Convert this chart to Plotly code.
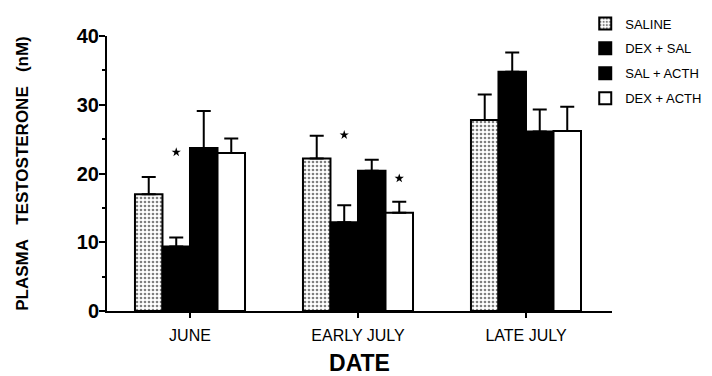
import plotly.graph_objects as go

categories = ["JUNE", "EARLY JULY", "LATE JULY"]
series_names = ["SALINE", "DEX + SAL", "SAL + ACTH", "DEX + ACTH"]

saline = [17.0, 22.2, 27.8]
dex_sal = [9.4, 12.9, 34.8]
sal_acth = [23.7, 20.4, 26.1]
dex_acth = [23.0, 14.3, 26.2]

saline_err = [2.5, 3.3, 3.7]
dex_sal_err = [1.3, 2.5, 2.8]
sal_acth_err = [5.4, 1.6, 3.2]
dex_acth_err = [2.1, 1.6, 3.5]

# significance markers (y positions of the asterisks; None = no marker)
saline_star = [None, None, None]
dex_sal_star = [23.1, 25.6, None]
sal_acth_star = [None, None, None]
dex_acth_star = [None, 19.3, None]

y_ticks = [0, 10, 20, 30, 40]

values = [saline, dex_sal, sal_acth, dex_acth]
errors = [saline_err, dex_sal_err, sal_acth_err, dex_acth_err]
stars = [saline_star, dex_sal_star, sal_acth_star, dex_acth_star]

FONT = "Liberation Sans, Arial, sans-serif"
NB = "\u00a0"

fills = [
    dict(color="white", pattern=dict(shape=".", fgcolor="black", bgcolor="white",
                                     size=4, solidity=0.35, fillmode="overlay")),
    dict(color="black"),
    dict(color="black"),
    dict(color="white"),
]

fig = go.Figure()
for i, (name, v, e) in enumerate(zip(series_names, values, errors)):
    m = dict(fills[i])
    m["line"] = dict(color="black", width=2)
    fig.add_trace(go.Bar(
        x=categories, y=v, name=name, marker=m,
        offsetgroup=str(i), legendgroup=str(i),
        error_y=dict(type="data", symmetric=False, array=e,
                     arrayminus=[0] * len(e), color="black",
                     thickness=2, width=7),
    ))

for i, s in enumerate(stars):
    fig.add_trace(go.Scatter(
        x=categories, y=s, mode="markers", offsetgroup=str(i),
        marker=dict(symbol="star", size=7, color="black"),
        showlegend=False, hoverinfo="skip",
    ))

fig.update_layout(
    width=704, height=368,
    margin=dict(l=99, r=100, t=28, b=65, autoexpand=False),
    paper_bgcolor="white", plot_bgcolor="white",
    barmode="group", bargap=0.345, bargroupgap=0,
    scattermode="group", scattergap=0.345,
    font=dict(family=FONT, color="black"),
    showlegend=True,
    legend=dict(x=0.947, xanchor="left", y=1.10, yanchor="top",
                font=dict(size=13, family=FONT), tracegroupgap=5,
                bgcolor="rgba(0,0,0,0)", itemclick=False),
)

fig.update_xaxes(
    type="category", range=[-0.494, 2.512],
    showline=True, linecolor="black", linewidth=2,
    ticks="outside", ticklen=5, tickwidth=2, tickcolor="black",
    tickfont=dict(size=16, family=FONT), ticklabelstandoff=4,
    showgrid=False, zeroline=False,
    title=dict(text="<b>DATE</b>", font=dict(size=23, family=FONT), standoff=19),
)

fig.update_yaxes(
    range=[0, 40], tickvals=y_ticks,
    ticktext=[f"<b>{t}</b>" for t in y_ticks],
    showline=True, linecolor="black", linewidth=2,
    ticks="outside", ticklen=6, tickwidth=2, tickcolor="black",
    tickfont=dict(size=20, family=FONT), ticklabelstandoff=-4,
    minor=dict(dtick=5, ticks="outside", ticklen=3, tickwidth=2, tickcolor="black"),
    showgrid=False, zeroline=False,
    title=dict(text=f"<b>PLASMA{NB*3}TESTOSTERONE{NB*3}(nM)</b>",
               font=dict(size=17, family=FONT), standoff=44),
)

fig.write_html("out.html")
